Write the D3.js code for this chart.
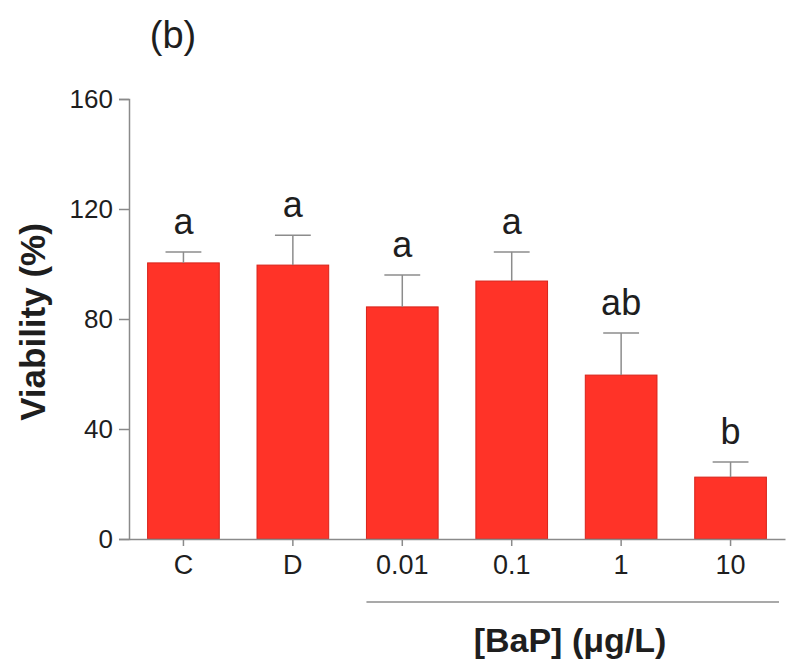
<!DOCTYPE html>
<html>
<head>
<meta charset="utf-8">
<script src="https://cdn.jsdelivr.net/npm/d3@7"></script>
<style>
  body { margin: 0; background: #fff; }
  svg { display: block; font-family: Arial, "Liberation Sans", sans-serif; }
</style>
</head>
<body>
<svg width="786" height="666"></svg>
<script>
// input data
const categories = ['C', 'D', '0.01', '0.1', '1', '10'];
const means = [100.4, 99.6, 84.4, 93.8, 59.6, 22.5];
const errors = [4.0, 10.9, 11.6, 10.6, 15.3, 5.5];
const letters = ['a', 'a', 'a', 'a', 'ab', 'b'];
const yTicks = [0, 40, 80, 120, 160];

const svg = d3.select('svg');

// plot area in pixels
const x0 = 129;
const x1 = 785;
const yTop = 99;
const yBottom = 539;

const x = d3
  .scaleBand()
  .domain(categories)
  .range([x0, x1])
  .paddingInner(0.345)
  .paddingOuter(0.17);

const y = d3.scaleLinear().domain([0, 160]).range([yBottom, yTop]);

const axisColor = '#8a8a8a';
const textColor = '#1e1e1e';

// bars
svg
  .append('g')
  .selectAll('rect')
  .data(categories)
  .enter()
  .append('rect')
  .attr('x', d => x(d))
  .attr('y', (d, i) => y(means[i]))
  .attr('width', x.bandwidth())
  .attr('height', (d, i) => y(0) - y(means[i]))
  .attr('fill', '#ff3328')
  .attr('stroke', '#d8231a')
  .attr('stroke-width', 1);

// error bars (upper only)
const groupErr = svg.append('g').attr('stroke', '#8c8c8c').attr('stroke-width', 1.5);
categories.forEach((d, i) => {
  const cx = x(d) + x.bandwidth() / 2;
  const top = y(means[i] + errors[i]);
  groupErr
    .append('line')
    .attr('x1', cx)
    .attr('x2', cx)
    .attr('y1', y(means[i]))
    .attr('y2', top);
  groupErr
    .append('line')
    .attr('x1', cx - x.bandwidth() / 4)
    .attr('x2', cx + x.bandwidth() / 4)
    .attr('y1', top)
    .attr('y2', top);
});

// significance letters
svg
  .append('g')
  .selectAll('text')
  .data(categories)
  .enter()
  .append('text')
  .attr('x', d => x(d) + x.bandwidth() / 2)
  .attr('y', (d, i) => y(means[i] + errors[i]) - 18)
  .attr('text-anchor', 'middle')
  .attr('font-size', 36)
  .attr('fill', textColor)
  .text((d, i) => letters[i]);

// y axis
const yAxis = svg
  .append('g')
  .attr('transform', `translate(${x0} 0)`)
  .call(d3.axisLeft(y).tickValues(yTicks).tickSize(10).tickPadding(6));
yAxis.select('.domain').attr('stroke', axisColor).attr('stroke-width', 1.5);
yAxis.selectAll('.tick line').attr('stroke', axisColor).attr('stroke-width', 1.5);
yAxis
  .selectAll('.tick text')
  .attr('font-size', 26)
  .attr('fill', textColor)
  .attr('font-family', 'Arial, "Liberation Sans", sans-serif');

// x axis
const xAxis = svg
  .append('g')
  .attr('transform', `translate(0 ${yBottom})`)
  .call(d3.axisBottom(x).tickSize(7).tickSizeOuter(0).tickPadding(9));
xAxis.select('.domain').attr('stroke', axisColor).attr('stroke-width', 1.5);
xAxis.selectAll('.tick line').attr('stroke', axisColor).attr('stroke-width', 1.5);
xAxis
  .selectAll('.tick text')
  .attr('font-size', 27)
  .attr('fill', textColor)
  .attr('font-family', 'Arial, "Liberation Sans", sans-serif');

// bracket line under the BaP concentrations
svg
  .append('line')
  .attr('x1', x('0.01'))
  .attr('x2', x1 - 6)
  .attr('y1', 602)
  .attr('y2', 602)
  .attr('stroke', '#8c8c8c')
  .attr('stroke-width', 1.5);

svg
  .append('text')
  .attr('x', 570)
  .attr('y', 652)
  .attr('text-anchor', 'middle')
  .attr('font-size', 34)
  .attr('font-weight', 'bold')
  .attr('fill', textColor)
  .text('[BaP] (\u03bcg/L)');

// y axis title
svg
  .append('text')
  .attr('transform', 'translate(45 322) rotate(-90)')
  .attr('text-anchor', 'middle')
  .attr('font-size', 35)
  .attr('font-weight', 'bold')
  .attr('fill', textColor)
  .text('Viability (%)');

// panel label
svg
  .append('text')
  .attr('x', 173)
  .attr('y', 48)
  .attr('text-anchor', 'middle')
  .attr('font-size', 38)
  .attr('fill', textColor)
  .text('(b)');
</script>
</body>
</html>
